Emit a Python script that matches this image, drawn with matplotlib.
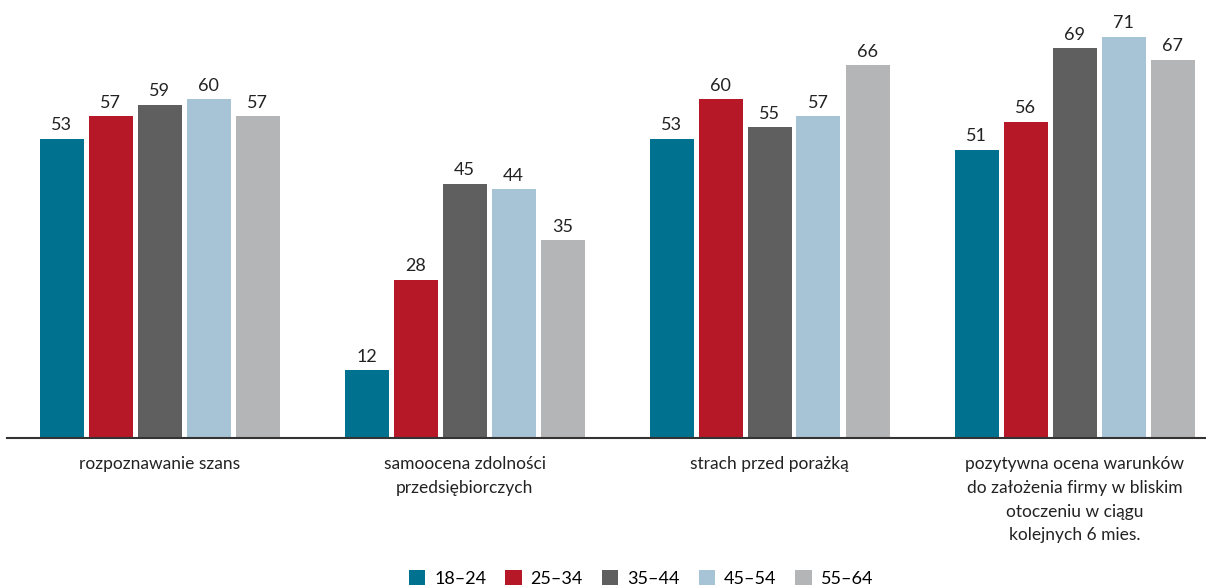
import matplotlib
matplotlib.use("Agg")
import matplotlib.pyplot as plt
import numpy as np

categories = ["rozpoznawanie szans",
              "samoocena zdolności\nprzedsiębiorczych",
              "strach przed porażką",
              "pozytywna ocena warunków\ndo założenia firmy w bliskim\notoczeniu w ciągu\nkolejnych 6 mies."]
series = ["18–24", "25–34", "35–44", "45–54", "55–64"]
values = {
    "18–24": [53, 12, 53, 51],
    "25–34": [57, 28, 60, 56],
    "35–44": [59, 45, 55, 69],
    "45–54": [60, 44, 57, 71],
    "55–64": [57, 35, 66, 67],
}
colors = ["#00728F", "#B61827", "#5F5F5F", "#A6C4D6", "#B4B5B7"]

plt.rcParams['font.family'] = ['Lato', 'DejaVu Sans']

fig = plt.figure(figsize=(12.06, 5.87), dpi=100)
ax = fig.add_axes([7/1206, 149/587, 1220/1206, 438/587])

x = np.arange(len(categories))
pitch = 49/305
width = 44/305
for i, (s, c) in enumerate(zip(series, colors)):
    off = (i - 2) * pitch
    bars = ax.bar(x + off, values[s], width, color=c, label=s)
    ax.bar_label(bars, padding=4, fontsize=13, color="#222222")

ax.set_xlim(-0.5, 3.5)
ax.set_ylim(0, 77.55)
ax.set_xticks(x)
ax.set_xticklabels(categories, fontsize=12.5, color="#222222", linespacing=1.6, va="top")
ax.tick_params(axis="x", length=0, pad=13)
ax.set_yticks([])
for sp in ["top", "right", "left"]:
    ax.spines[sp].set_visible(False)
ax.spines["bottom"].set_color("#333333")
ax.spines["bottom"].set_linewidth(1.5)

fig.legend(loc="lower center", bbox_to_anchor=(641/1206, -0.027), ncol=5, frameon=False,
           handlelength=0.9, handleheight=0.9, handletextpad=0.5, columnspacing=1.05,
           fontsize=13)

fig.savefig("out.png", dpi=100)
